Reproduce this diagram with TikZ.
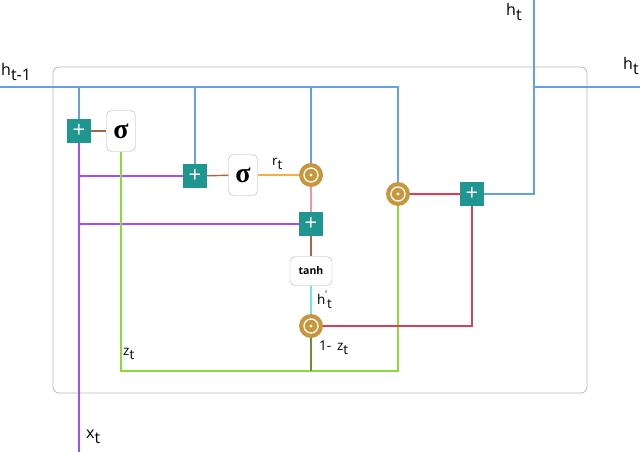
\documentclass[tikz,border=0pt]{standalone}
\usepackage{fontspec}
\setmainfont{Open Sans}
\newfontfamily\sigfont{Liberation Serif}
\usepackage{tikz}
\usetikzlibrary{shapes,arrows,calc}
\definecolor{gateteal}{HTML}{209691}
\definecolor{hblue}{HTML}{64A0E6}
\definecolor{xpurple}{HTML}{A64DF7}
\definecolor{zgreen}{HTML}{8CD93A}
\definecolor{zdark}{HTML}{6E8F3A}
\definecolor{sbrown}{HTML}{A06A45}
\definecolor{rorange}{HTML}{F5B041}
\definecolor{rpink}{HTML}{F4949E}
\definecolor{hcyan}{HTML}{72E5DD}
\definecolor{ored}{HTML}{E8384F}
\definecolor{odark}{HTML}{D04458}
\definecolor{mgold}{HTML}{C8963C}
\tikzstyle{plusbox} = [fill=gateteal, text=white, minimum size=24pt, inner sep=0pt, font=\fontsize{22}{22}\selectfont]
\tikzstyle{sigbox} = [draw=gray!60, fill=white, rounded corners=5pt, minimum width=29pt, minimum height=41pt, inner sep=0pt, font=\sigfont\bfseries\fontsize{28}{28}\selectfont]
\tikzstyle{tanhbox} = [draw=gray!60, fill=white, rounded corners=5pt, minimum width=42pt, minimum height=29pt, inner sep=0pt, font=\bfseries\fontsize{10.5}{10.5}\selectfont]
\tikzstyle{odot} = [circle, fill=mgold, minimum size=24pt, inner sep=0pt,
  path picture={\draw[white, line width=1.3pt] (path picture bounding box.center) circle (7pt);
    \fill[white] (path picture bounding box.center) circle (1.6pt);}]
\tikzstyle{lab} = [anchor=west, inner sep=0pt, font=\fontsize{16}{18}\selectfont]
\tikzstyle{smalllab} = [anchor=west, inner sep=0pt, font=\fontsize{13.5}{15}\selectfont]
\tikzstyle{line} = [draw, line width=1.4pt]
\newcommand{\lowsub}[2]{#1\raisebox{-0.55ex}{#2}}
\begin{document}
\begin{tikzpicture}[x=1pt, y=-1pt]
      \useasboundingbox (0,0) rectangle (640,452);

      % cell frame
      \draw[gray!55, line width=0.8pt, rounded corners=6pt] (53,67) rectangle (587,393);

      % gates
      \node[plusbox] (pz) at (79,131) {+};
      \node[sigbox] (sz) at (121,131) {σ};
      \node[plusbox] (pr) at (195,176) {+};
      \node[sigbox] (sr) at (243,175) {σ};
      \node[odot] (mr) at (311,175) {};
      \node[plusbox] (ph) at (311,224) {+};
      \node[tanhbox] (th) at (311,271) {tanh};
      \node[odot] (mh) at (311,326) {};
      \node[odot] (mz) at (398,194) {};
      \node[plusbox] (po) at (472,194) {+};

      % fixed ends
      \coordinate (hin) at (0,87);
      \coordinate (hturn) at (398,87);
      \coordinate (xin) at (79,452);
      \coordinate (zturn) at (398,371);
      \coordinate (outtop) at (534,0);
      \coordinate (outsplit) at (534,87);
      \coordinate (outright) at (640,87);

      % h_{t-1}
      \draw[line, hblue, line width=1.8pt] (hin) -- (hturn) -- (mz);
      \draw[line, hblue] (pz |- hin) -- (pz);
      \draw[line, hblue] (pr |- hin) -- (pr);
      \draw[line, hblue] (mr |- hin) -- (mr);

      % x_t
      \draw[line, xpurple] (xin) -- (pz);
      \draw[line, xpurple] (pz |- pr) -- (pr);
      \draw[line, xpurple] (pz |- ph) -- (ph);

      % inner connections
      \draw[line, sbrown] (pz) -- (sz);
      \draw[line, sbrown] (pr) -- (sr);
      \draw[line, sbrown] (ph) -- (th);
      \draw[line, rorange] (sr) -- (mr);
      \draw[line, rpink] (mr) -- (ph);
      \draw[line, hcyan] (th) -- (mh);
      \draw[line, zgreen] (sz) |- (zturn) -- (mz);
      \draw[line, zdark] (mh) -- (mh |- zturn);
      \draw[line, ored] (mz) -- (po);
      \draw[line, odark] (mh) -| (po);

      % h_t
      \draw[line, hblue, line width=1.8pt] (po) -| (outtop);
      \draw[line, hblue, line width=1.8pt] (outsplit) -- (outright);

      % labels
      \node[lab] (lhin) at (1,72) {\lowsub{h}{t-1}};
      \node[lab] (lhtop) at (506,12) {\lowsub{h}{t}};
      \node[lab] (lhout) at (623,66) {\lowsub{h}{t}};
      \node[smalllab] (lr) at (272,164) {\lowsub{r}{t}};
      \node[smalllab] (lhc) at (317,300) {h\raisebox{0.9ex}{\fontsize{9}{9}\selectfont'}\raisebox{-0.6ex}{t}};
      \node[smalllab] (lnz) at (319,348) {1-\, \lowsub{z}{t}};
      \node[smalllab] (lz) at (123,354) {\lowsub{z}{t}};
      \node[lab] (lx) at (86,437) {\lowsub{x}{t}};
    \end{tikzpicture}
\end{document}
